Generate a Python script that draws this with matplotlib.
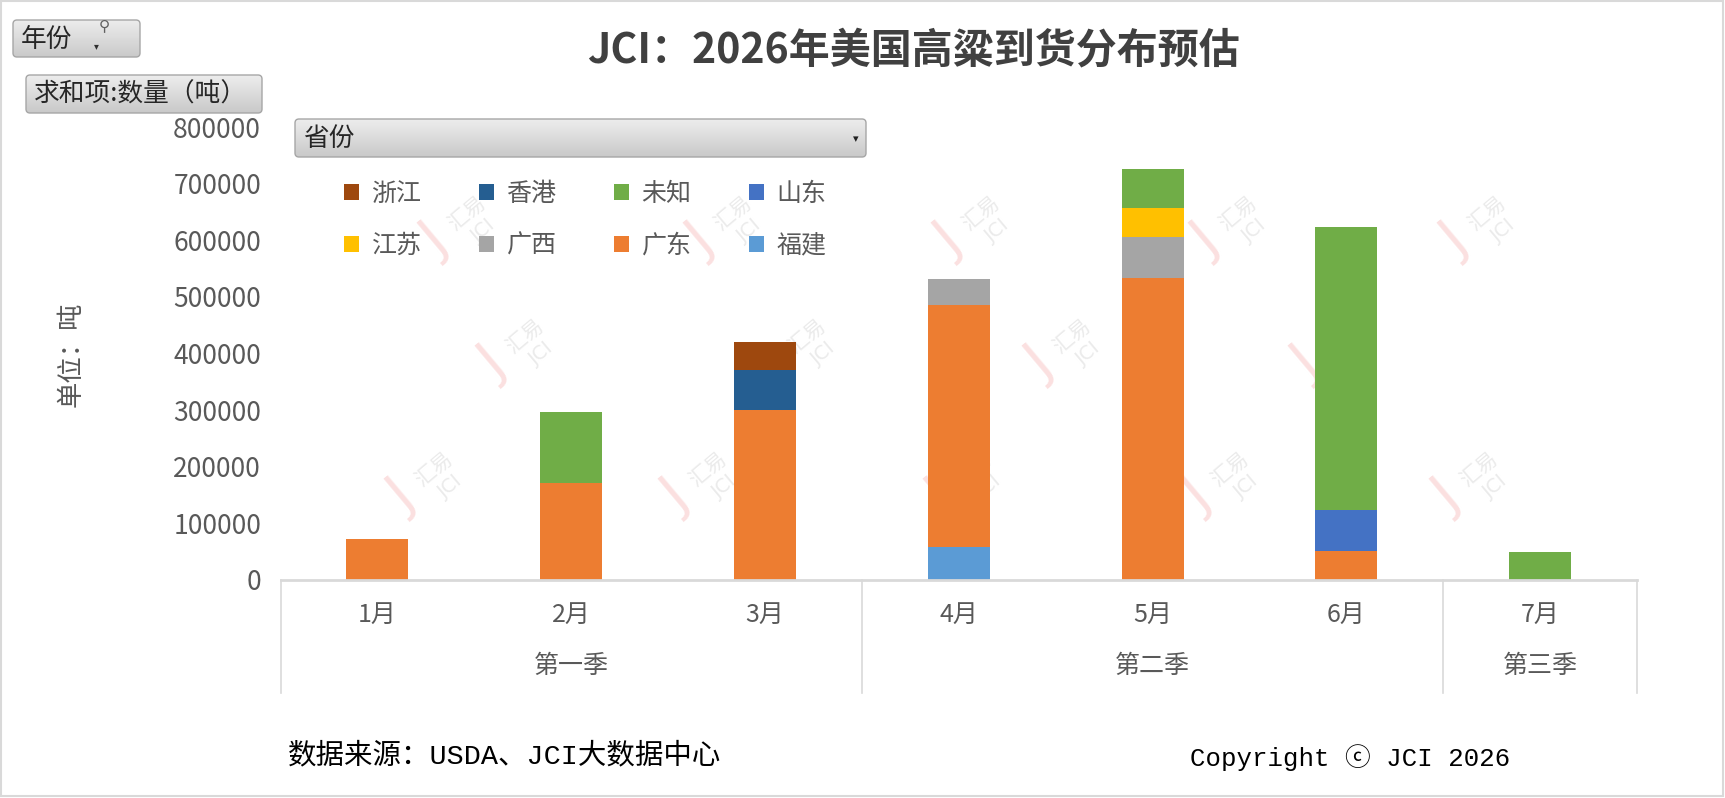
import numpy as np
import matplotlib
matplotlib.use("Agg")
import matplotlib.pyplot as plt
from matplotlib.patches import Patch, FancyBboxPatch, Rectangle
from matplotlib.lines import Line2D
from matplotlib.colors import LinearSegmentedColormap
import matplotlib.transforms as mtransforms

plt.rcParams['font.family'] = ['Noto Sans CJK SC', 'DejaVu Sans']

# ---------------- data ----------------
months = ['1月', '2月', '3月', '4月', '5月', '6月', '7月']
quarters = ['第一季', '第二季', '第三季']
quarter_spans = [(0, 2), (3, 5), (6, 6)]
# series in stacking order (bottom -> top)
fujian    = [0, 0, 0, 58000, 0, 0, 0]
guangdong = [73000, 172000, 300000, 427000, 534000, 51000, 0]
guangxi   = [0, 0, 0, 47000, 72000, 0, 0]
jiangsu   = [0, 0, 0, 0, 51000, 0, 0]
shandong  = [0, 0, 0, 0, 0, 72600, 0]
weizhi    = [0, 125000, 0, 0, 69000, 500000, 49000]
xianggang = [0, 0, 70000, 0, 0, 0, 0]
zhejiang  = [0, 0, 50000, 0, 0, 0, 0]
series_names = ['福建', '广东', '广西', '江苏', '山东', '未知', '香港', '浙江']
series_vals = [fujian, guangdong, guangxi, jiangsu, shandong, weizhi, xianggang, zhejiang]
series_colors = ['#5B9BD5', '#ED7D31', '#A5A5A5', '#FFC000', '#4472C4', '#70AD47', '#255E91', '#9E480E']
yticks = [0, 100000, 200000, 300000, 400000, 500000, 600000, 700000, 800000]

W, H = 1725, 798
fig = plt.figure(figsize=(W / 100, H / 100), dpi=100)
fig.patch.set_facecolor('white')

def fx(px):
    return px / W

def fy(py):
    return 1 - py / H

# background axes for watermark
bg = fig.add_axes([0, 0, 1, 1], zorder=0)
bg.set_xlim(0, W); bg.set_ylim(H, 0); bg.axis('off')

wm_pts = [(457, 227), (723, 227), (971, 227), (1228, 227), (1477, 227),
          (515, 350), (797, 350), (1062, 350), (1328, 350),
          (424, 483), (698, 483), (963, 483), (1220, 483), (1469, 483)]
for (cx, cy) in wm_pts:
    bg.text(cx - 22, cy + 14, 'J', fontsize=38, color='#FBE0E0', rotation=40,
            ha='center', va='center', family=['DejaVu Sans'])
    bg.text(cx + 10, cy - 14, '汇易', fontsize=15, color='#EBEBEB', rotation=40,
            ha='center', va='center')
    bg.text(cx + 26, cy + 4, 'JCI', fontsize=14, color='#EBEBEB', rotation=40,
            ha='center', va='center', family=['DejaVu Sans'])

# main axes
ax = fig.add_axes([fx(280.5), fy(580), fx(1637) - fx(280.5), fy(127) - fy(580)], zorder=1)
ax.patch.set_alpha(0)
x = np.arange(len(months))
bottom = np.zeros(len(months))
for name, vals, col in zip(series_names, series_vals, series_colors):
    v = np.array(vals, dtype=float)
    ax.bar(x, v, width=0.32, bottom=bottom, color=col, label=name, zorder=2)
    bottom += v

ax.set_xlim(-0.5, len(months) - 0.5)
ax.set_ylim(0, 800000)
ax.set_yticks(yticks)
ax.set_yticklabels([str(t) for t in yticks])
ax.set_xticks(x)
ax.set_xticklabels(months)
ax.tick_params(axis='y', length=0, labelsize=19, colors='#595959', pad=14)
ax.tick_params(axis='x', length=0, labelsize=18, colors='#595959', pad=16)
for s in ['left', 'right', 'top']:
    ax.spines[s].set_visible(False)
ax.spines['bottom'].set_color('#D9D9D9')
ax.spines['bottom'].set_linewidth(2)

# category group separators and quarter labels
trans = mtransforms.blended_transform_factory(ax.transData, fig.transFigure)
for b in [-0.5, 2.5, 5.5, 6.5]:
    ax.add_line(Line2D([b, b], [fy(580), fy(693)], transform=trans, color='#D9D9D9',
                       lw=1.2, clip_on=False))
for q, (a, b) in zip(quarters, quarter_spans):
    ax.text((a + b) / 2, fy(666), q, transform=trans, ha='center', va='center',
            fontsize=18, color='#595959')

# legend (Excel shows reversed order, 4 per row)
order = ['浙江', '江苏', '香港', '广西', '未知', '广东', '山东', '福建']
cmap = dict(zip(series_names, series_colors))
handles = [Patch(facecolor=cmap[n], edgecolor='none', label=n) for n in order]
fig.legend(handles=handles, ncol=4, loc='upper left', bbox_to_anchor=(fx(344), fy(181)),
           frameon=False, fontsize=18, handlelength=0.6, handleheight=0.6,
           handletextpad=0.5, columnspacing=2.3, labelspacing=1.02, borderpad=0,
           borderaxespad=0, labelcolor='#595959')

# titles and texts
fig.text(fx(913), fy(50), 'JCI：2026年美国高粱到货分布预估', ha='center', va='center',
         fontsize=29.5, fontweight='bold', color='#404040')
fig.text(fx(71), fy(354), '单位：吨', rotation=90, ha='center', va='center',
         fontsize=19, color='#595959')
fig.text(fx(288), fy(756), '数据来源：USDA、JCI大数据中心', ha='left', va='center',
         fontsize=20.5, color='black', family=['Liberation Mono', 'Noto Sans CJK SC', 'DejaVu Sans'])
fig.text(fx(1190), fy(758), 'Copyright ⓒ JCI 2026', ha='left', va='center',
         fontsize=18.5, color='black', family=['Liberation Mono', 'Noto Sans CJK SC', 'DejaVu Sans'])

# overlay axes for pivot-chart buttons
ov = fig.add_axes([0, 0, 1, 1], zorder=3)
ov.set_xlim(0, W); ov.set_ylim(H, 0); ov.axis('off'); ov.patch.set_alpha(0)
grad = np.linspace(0, 1, 64).reshape(-1, 1)
bcmap = LinearSegmentedColormap.from_list('btn', ['#EDEDED', '#C9C9C9'])

def button(x0, y0, x1, y1, label, fs):
    p = FancyBboxPatch((x0, y0), x1 - x0, y1 - y0, boxstyle='round,pad=0,rounding_size=4',
                       facecolor='none', edgecolor='#A6A6A6', lw=1, zorder=5)
    ov.add_patch(p)
    im = ov.imshow(grad, extent=(x0, x1, y1, y0), cmap=bcmap, aspect='auto', zorder=4)
    im.set_clip_path(p)
    ov.text(x0 + 8, (y0 + y1) / 2 + 1, label, ha='left', va='center', fontsize=fs,
            color='#262626', zorder=6)

button(13, 20, 140, 57, '年份', 18.5)
ov.text(104, 26, '⚲', fontsize=11, color='#606060', ha='center', va='center', zorder=6,
        family=['DejaVu Sans'])
ov.text(96, 46, '▾', fontsize=7, color='#303030', ha='center', va='center', zorder=6,
        family=['DejaVu Sans'])
button(26, 75, 262, 113, '求和项:数量（吨）', 18.5)
button(295, 119, 866, 157, '省份', 18.5)
ov.text(856, 139, '▾', fontsize=8, color='#202020', ha='center', va='center', zorder=6,
        family=['DejaVu Sans'])

# outer border
ov.add_patch(Rectangle((1, 1), W - 3, H - 3, facecolor='none', edgecolor='#D9D9D9', lw=1.5,
                       zorder=7))

ov.set_xlim(0, W); ov.set_ylim(H, 0)
fig.savefig('out.png', dpi=100, facecolor='white')
